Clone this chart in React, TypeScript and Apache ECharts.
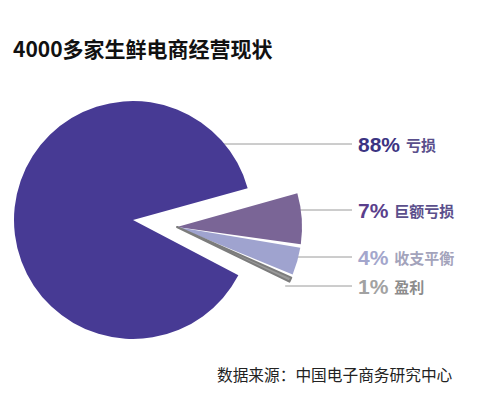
import React, { useEffect, useRef } from "react";
import * as echarts from "echarts";

// ---- data ----
const titleText = "4000多家生鲜电商经营现状";
const sourceText = "数据来源：中国电子商务研究中心";
const names = ["亏损", "巨额亏损", "收支平衡", "盈利"];
const values = [88, 7, 4, 1];

// ---- styles ----
const sliceColors = ["#473a94", "#7a6596", "#9fa3cf", "#9a9a9a"];
const sliceBorders = ["", "", "", "#7c7c7c"];
const pctColors = ["#3c3482", "#5a3f8c", "#a3a6cc", "#a2a2a2"];
const nameColors = ["#5a4f8c", "#5b4f8c", "#a3a3bb", "#8c8c8c"];
const labelY = [144, 210, 257, 286];

const BIG = { cx: 133, cy: 220, r: 119 };
const SMALL = { cx: 177, cy: 227, r: 125 };
const LINE_END = 352;
const TEXT_X = 358;

function labelFor(i: number) {
  return {
    show: true,
    position: "outside",
    formatter: `{p|${values[i]}%}{n|${names[i]}}`,
    rich: {
      p: {
        fontFamily: "'Liberation Sans', Arial, sans-serif",
        fontWeight: "bold",
        fontSize: 21,
        color: pctColors[i],
      },
      n: {
        fontFamily: "'Noto Sans CJK SC', sans-serif",
        fontWeight: "bold",
        fontSize: 15,
        color: nameColors[i],
        padding: [0, 0, 0, 6],
      },
    },
  };
}

function layoutFor(center: { cx: number; cy: number; r: number }, idxMap: (d: number) => number) {
  return (params: any) => {
    const i = idxMap(params.dataIndex);
    if (i < 0) return {};
    const y = labelY[i];
    const dy = y - center.cy;
    const x0 = center.cx + Math.sqrt(Math.max(0, center.r * center.r - dy * dy)) - 2;
    return {
      x: TEXT_X,
      y,
      align: "left",
      verticalAlign: "middle",
      labelLinePoints: [
        [x0, y],
        [LINE_END, y],
        [LINE_END, y],
      ],
    };
  };
}

const hidden = {
  itemStyle: { color: "rgba(0,0,0,0)" },
  label: { show: false },
  labelLine: { show: false },
  emphasis: { disabled: true },
};

export default function App() {
  const ref = useRef<HTMLDivElement>(null);
  useEffect(() => {
    document.body.style.margin = "0";
    const chart = echarts.init(ref.current!, undefined, { renderer: "svg" });
    const restSum = values.slice(1).reduce((a, b) => a + b, 0);
    const smallIdx = [1, 2, 3];
    chart.setOption({
      animation: false,
      backgroundColor: "#ffffff",
      title: [
        {
          text: titleText,
          left: 8,
          top: 32,
          textStyle: {
            fontFamily: "'Noto Sans CJK SC', sans-serif",
            fontWeight: "bold",
            fontSize: 21,
            color: "#111111",
          },
        },
        {
          text: sourceText,
          left: 212,
          top: 362,
          textStyle: {
            fontFamily: "'Noto Sans CJK SC', sans-serif",
            fontWeight: "normal",
            fontSize: 15.7,
            color: "#222222",
          },
        },
      ],
      series: [
        {
          type: "pie",
          center: [BIG.cx, BIG.cy],
          radius: [0, BIG.r],
          startAngle: 15.5,
          clockwise: true,
          avoidLabelOverlap: false,
          silent: true,
          labelLine: { show: true, lineStyle: { color: "#9a9a9a", width: 1 } },
          labelLayout: layoutFor(BIG, (d) => (d === 1 ? 0 : -1)),
          data: [
            { value: restSum, name: "其他", ...hidden },
            {
              value: values[0],
              name: names[0],
              itemStyle: { color: sliceColors[0] },
              label: labelFor(0),
            },
          ],
        },
        {
          type: "pie",
          center: [SMALL.cx, SMALL.cy],
          radius: [0, SMALL.r],
          startAngle: 16.5,
          clockwise: true,
          padAngle: 1.6,
          avoidLabelOverlap: false,
          silent: true,
          labelLine: { show: true, lineStyle: { color: "#9a9a9a", width: 1 } },
          labelLayout: layoutFor(SMALL, (d) => (d < smallIdx.length ? smallIdx[d] : -1)),
          data: [
            ...smallIdx.map((i) => ({
              value: values[i],
              name: names[i],
              itemStyle: sliceBorders[i]
                ? { color: sliceColors[i], borderColor: sliceBorders[i], borderWidth: 2 }
                : { color: sliceColors[i] },
              label: labelFor(i),
            })),
            { value: values[0], name: "亏损占位", ...hidden },
          ],
        },
      ],
    });
    return () => chart.dispose();
  }, []);
  return <div ref={ref} style={{ width: 500, height: 396 }} />;
}
